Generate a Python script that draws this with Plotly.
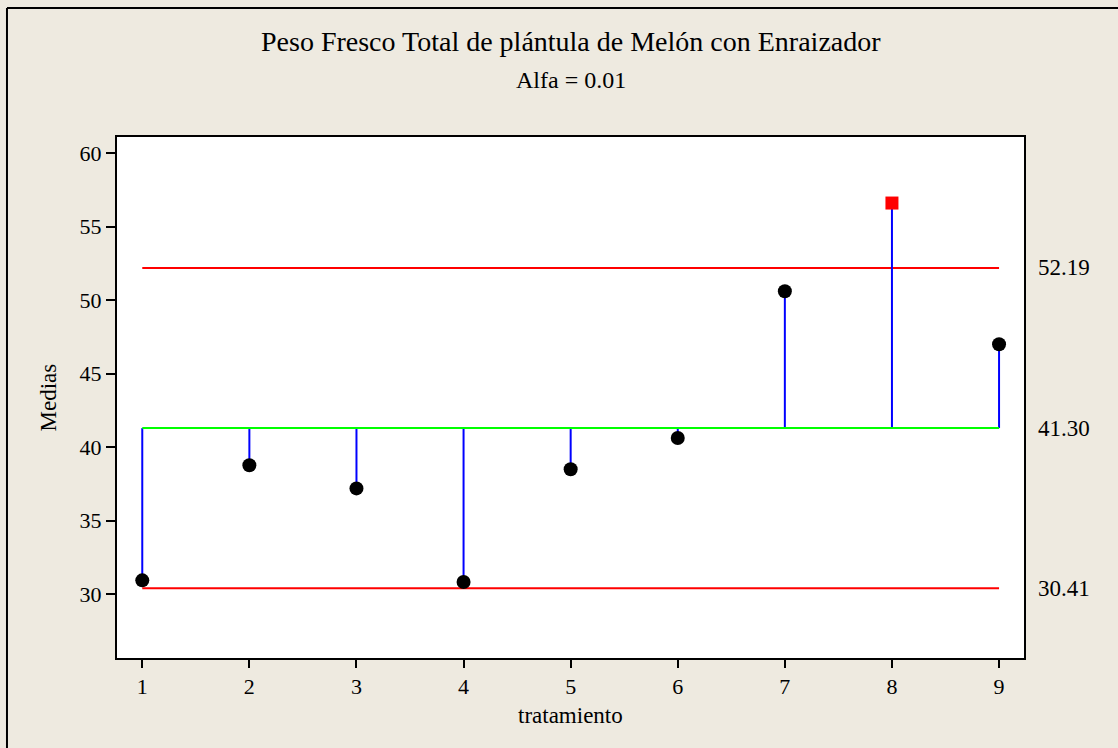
import plotly.graph_objects as go

# Analysis of means: treatment means and decision limits
tratamiento = [1, 2, 3, 4, 5, 6, 7, 8, 9]
medias = [30.95, 38.77, 37.2, 30.84, 38.5, 40.63, 50.6, 56.6, 47.0]
centro = 41.30
lsd = 52.19
lid = 30.41

FONT = "Liberation Serif, Times New Roman, serif"
BG = "#EEEAE0"

fig = go.Figure()

# limit lines and centre line across the treatments
x_span = [tratamiento[0], tratamiento[-1]]
fig.add_trace(go.Scatter(x=x_span, y=[lsd, lsd], mode="lines",
                         line=dict(color="#FF0000", width=2), hoverinfo="skip"))
fig.add_trace(go.Scatter(x=x_span, y=[lid, lid], mode="lines",
                         line=dict(color="#FF0000", width=2), hoverinfo="skip"))

# stems from the centre line to each mean
sx, sy = [], []
for t, m in zip(tratamiento, medias):
    sx += [t, t, None]
    sy += [centro, m, None]
fig.add_trace(go.Scatter(x=sx, y=sy, mode="lines",
                         line=dict(color="#0000FF", width=2), hoverinfo="skip"))

fig.add_trace(go.Scatter(x=x_span, y=[centro, centro], mode="lines",
                         line=dict(color="#00FF00", width=2), hoverinfo="skip"))

# means inside the limits as black dots, outside as red squares
dentro = [(t, m) for t, m in zip(tratamiento, medias) if lid <= m <= lsd]
fuera = [(t, m) for t, m in zip(tratamiento, medias) if not (lid <= m <= lsd)]
fig.add_trace(go.Scatter(x=[p[0] for p in dentro], y=[p[1] for p in dentro],
                         mode="markers",
                         marker=dict(symbol="circle", size=14, color="black")))
fig.add_trace(go.Scatter(x=[p[0] for p in fuera], y=[p[1] for p in fuera],
                         mode="markers",
                         marker=dict(symbol="square", size=13, color="#FF0000")))

# limit value labels at the right of the plot
for v in (lsd, centro, lid):
    fig.add_annotation(x=1.013, xref="paper", y=v, yref="y", text=f"{v:.2f}",
                       showarrow=False, xanchor="left", yanchor="middle",
                       font=dict(family=FONT, size=23, color="black"))

# titles
fig.add_annotation(x=0.5, xref="paper", y=1.184, yref="paper",
                   text="Peso Fresco Total de plántula de Melón con Enraizador",
                   showarrow=False, xanchor="center", yanchor="middle",
                   font=dict(family=FONT, size=28, color="black"))
fig.add_annotation(x=0.5, xref="paper", y=1.11, yref="paper",
                   text="Alfa = 0.01", showarrow=False,
                   xanchor="center", yanchor="middle",
                   font=dict(family=FONT, size=24, color="black"))
fig.add_annotation(x=0.5, xref="paper", y=-0.111, yref="paper",
                   text="tratamiento", showarrow=False,
                   xanchor="center", yanchor="middle",
                   font=dict(family=FONT, size=23, color="black"))
fig.add_annotation(x=-0.075, xref="paper", y=0.5, yref="paper",
                   text="Medias", textangle=-90, showarrow=False,
                   xanchor="center", yanchor="middle",
                   font=dict(family=FONT, size=23, color="black"))

# outer frame (top and left edges)
fig.add_shape(type="line", xref="paper", yref="paper",
              x0=-0.1213, x1=1.11, y0=1.2476, y1=1.2476,
              line=dict(color="black", width=2))
fig.add_shape(type="line", xref="paper", yref="paper",
              x0=-0.1213, x1=-0.1213, y0=1.2476, y1=-0.18,
              line=dict(color="black", width=2))

fig.update_layout(
    width=1118, height=748,
    margin=dict(l=117, r=94, t=137, b=90),
    paper_bgcolor=BG, plot_bgcolor="white",
    showlegend=False,
    font=dict(family=FONT, size=22, color="black"),
    xaxis=dict(range=[0.764, 9.233], tickmode="array", tickvals=tratamiento,
               ticktext=[str(t) for t in tratamiento],
               tickfont=dict(family=FONT, size=22, color="black"),
               showgrid=False, zeroline=False,
               showline=True, linecolor="black", linewidth=2, mirror=True,
               ticks="outside", ticklen=8, tickwidth=2, tickcolor="black"),
    yaxis=dict(range=[25.67, 61.09], tickmode="array",
               tickvals=[30, 35, 40, 45, 50, 55, 60],
               tickfont=dict(family=FONT, size=22, color="black"),
               showgrid=False, zeroline=False,
               showline=True, linecolor="black", linewidth=2, mirror=True,
               ticks="outside", ticklen=9, tickwidth=2, tickcolor="black"),
)

fig.write_html("out.html")
